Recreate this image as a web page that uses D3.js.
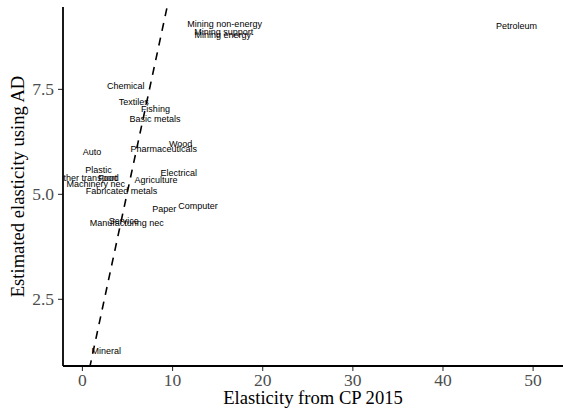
<!DOCTYPE html>
<html>
<head>
<meta charset="utf-8">
<script src="https://cdn.jsdelivr.net/npm/d3@7"></script>
<style>
  body { margin: 0; background: #fff; }
  svg { display: block; }
</style>
</head>
<body>
<svg id="chart" width="563" height="417"></svg>
<script>
const sectors = ["Mining non-energy", "Mining support", "Mining energy", "Chemical", "Textiles", "Fishing",
  "Basic metals", "Wood", "Pharmaceuticals", "Auto", "Plastic", "Other transport", "Food",
  "Machinery nec", "Fabricated metals", "Electrical", "Agriculture", "Paper", "Computer",
  "Manufacturing nec", "Service", "Mineral", "Petroleum"];
const cp2015 = [15.83, 15.73, 15.62, 4.86, 5.74, 8.15, 8.10, 10.96, 9.08, 1.11, 1.85, 0.55, 2.94,
  1.53, 4.40, 10.74, 8.23, 9.13, 12.87, 4.97, 4.64, 2.70, 48.21];
const adElasticity = [9.04, 8.85, 8.78, 7.58, 7.19, 7.03, 6.79, 6.19, 6.08, 5.99, 5.57, 5.38, 5.38,
  5.25, 5.07, 5.49, 5.33, 4.64, 4.71, 4.30, 4.35, 1.26, 9.00];
const xTicks = [0, 10, 20, 30, 40, 50];
const yTicks = [2.5, 5.0, 7.5];

(function () {
const svg = d3.select("#chart");
const pl = 63, pr = 563, pt = 7, pb = 366;

const x = d3.scaleLinear().domain([-2.1, 53.37]).range([pl, pr]);
const y = d3.scaleLinear().domain([0.9, 9.45]).range([pb, pt]);

svg.append("defs").append("clipPath").attr("id", "clip")
  .append("rect").attr("x", pl).attr("y", pt).attr("width", pr - pl).attr("height", pb - pt);

const panel = svg.append("g").attr("clip-path", "url(#clip)");

// 45-degree reference line
panel.append("line")
  .attr("x1", x(0.5)).attr("y1", y(0.5))
  .attr("x2", x(10)).attr("y2", y(10))
  .attr("stroke", "#000").attr("stroke-width", 1.6)
  .attr("stroke-dasharray", "8,7");

// labels
const data = sectors.map((s, i) => ({ s, x: cp2015[i], y: adElasticity[i] }));
panel.selectAll("text.lab").data(data).enter().append("text")
  .attr("class", "lab")
  .attr("x", d => x(d.x)).attr("y", d => y(d.y))
  .attr("dy", "0.35em")
  .attr("text-anchor", "middle")
  .attr("font-family", "Liberation Sans, Arial, sans-serif")
  .attr("font-size", 9)
  .attr("fill", "#000")
  .text(d => d.s);

// axes
const xAxis = d3.axisBottom(x).tickValues(xTicks).tickSize(5).tickPadding(3).tickFormat(d3.format("d"));
const yAxis = d3.axisLeft(y).tickValues(yTicks).tickSize(5).tickPadding(4).tickFormat(d3.format(".1f"));

const gx = svg.append("g").attr("transform", `translate(0,${pb})`).call(xAxis);
const gy = svg.append("g").attr("transform", `translate(${pl},0)`).call(yAxis);

[gx, gy].forEach(g => {
  g.select(".domain").remove();
  g.selectAll(".tick line").attr("stroke", "#333").attr("stroke-width", 1.1);
  g.selectAll(".tick text")
    .attr("font-family", "Liberation Serif, Times New Roman, serif")
    .attr("font-size", 17.5)
    .attr("fill", "#4d4d4d");
});

// axis lines
svg.append("line").attr("x1", pl).attr("x2", pr).attr("y1", pb).attr("y2", pb)
  .attr("stroke", "#000").attr("stroke-width", 1.8);
svg.append("line").attr("x1", pl).attr("x2", pl).attr("y1", pt).attr("y2", pb)
  .attr("stroke", "#000").attr("stroke-width", 1.8);

// titles
svg.append("text")
  .attr("x", (pl + pr) / 2).attr("y", 404)
  .attr("text-anchor", "middle")
  .attr("font-family", "Liberation Serif, Times New Roman, serif")
  .attr("font-size", 18.6)
  .attr("fill", "#000")
  .text("Elasticity from CP 2015");

svg.append("text")
  .attr("transform", `translate(24,${(pt + pb) / 2}) rotate(-90)`)
  .attr("text-anchor", "middle")
  .attr("font-family", "Liberation Serif, Times New Roman, serif")
  .attr("font-size", 18.6)
  .attr("fill", "#000")
  .text("Estimated elasticity using AD");
})();
</script>
</body>
</html>
